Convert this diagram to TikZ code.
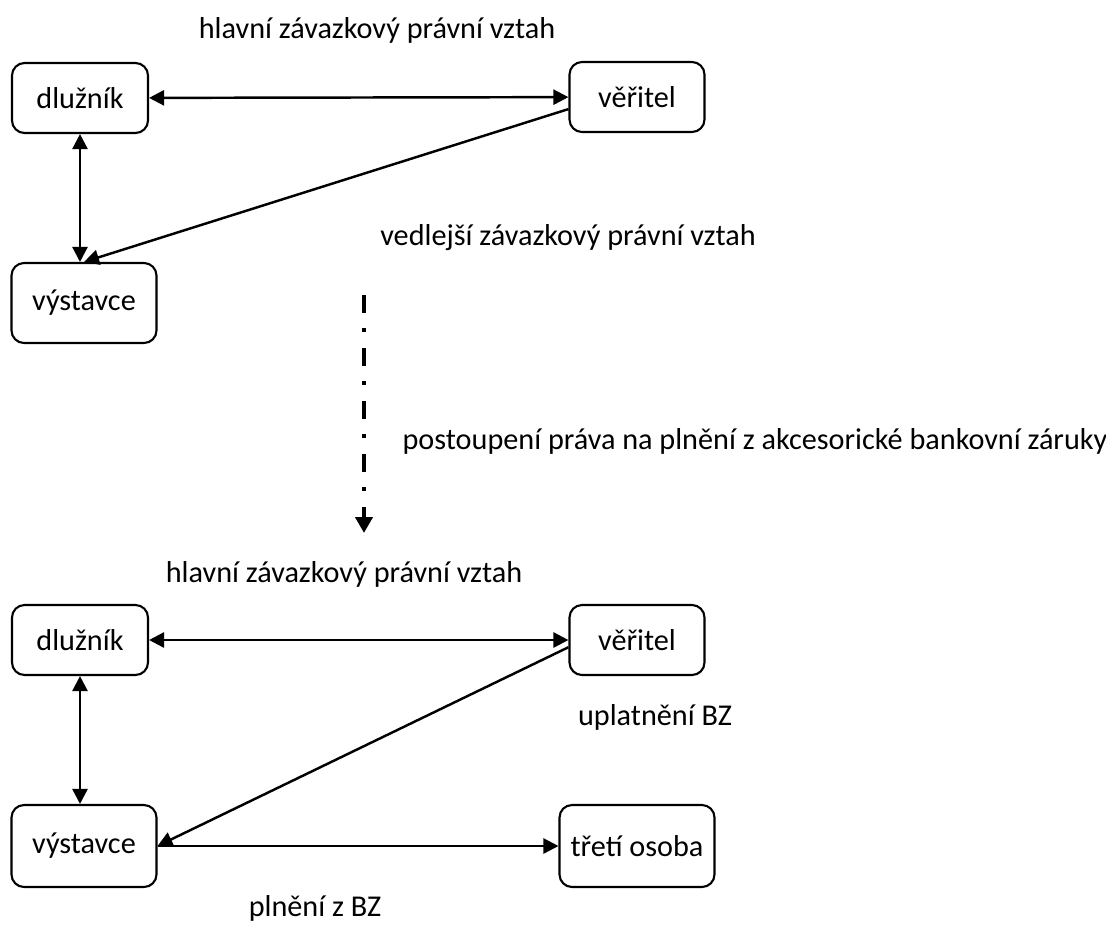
\documentclass[tikz,border=0pt]{standalone}
\usepackage{fontspec}
\setmainfont{Carlito}
\usetikzlibrary{arrows.meta}

\begin{document}
\begin{tikzpicture}
      [x=0.02cm, y=-0.02cm,
      font=\fontsize{17.2}{20}\selectfont,
      party/.style={rectangle, rounded corners=0.25cm, draw=black, fill=white,
        line width=1.2pt, minimum height=1.4cm},
      arr/.style={-{Triangle[length=0.3cm,width=0.3cm]}, line width=1.4pt},
      biarr/.style={{Triangle[length=0.3cm,width=0.3cm]}-{Triangle[length=0.3cm,width=0.3cm]}, line width=1.4pt},
      assign/.style={-{Triangle[length=0.32cm,width=0.34cm]}, line width=2.6pt,
        dash pattern=on 0.36cm off 0.3cm on 0.08cm off 0.32cm}]
      \useasboundingbox (0,0) rectangle (1106,924);
      % before the assignment
      \node (dl1) at (80, 98) [party, minimum width=2.72cm] {dlužník};
      \node (ve1) at (637, 97) [party, minimum width=2.7cm] {věřitel};
      \node (vy1) at (84, 303) [party, minimum width=2.9cm, minimum height=1.6cm] {výstavce};
      \draw[biarr] (dl1) -- (ve1);
      \draw[biarr] (dl1.south) -- (dl1.south |- vy1.north);
      \draw[arr] (ve1.190) -- (vy1.north);
      \node (main1) at (377, 30) {hlavní závazkový právní vztah};
      \node (side1) at (568, 238) {vedlejší závazkový právní vztah};
      % assignment
      \coordinate (assignTop) at (364, 295);
      \coordinate (assignEnd) at (364, 533);
      \draw[assign] (assignTop) -- (assignEnd);
      \node (assignLbl) at (755, 441) {postoupení práva na plnění z akcesorické bankovní záruky};
      % after the assignment
      \node (dl2) at (80, 640) [party, minimum width=2.72cm] {dlužník};
      \node (ve2) at (637, 640) [party, minimum width=2.7cm] {věřitel};
      \node (vy2) at (84, 846) [party, minimum width=2.9cm, minimum height=1.64cm] {výstavce};
      \node (tr2) at (637, 846) [party, minimum width=3.1cm, minimum height=1.64cm] {třetí osoba};
      \draw[biarr] (dl2) -- (ve2);
      \draw[biarr] (dl2.south) -- (dl2.south |- vy2.north);
      \draw[arr] (ve2.186) -- (vy2.east);
      \draw[arr] (vy2) -- (tr2);
      \node (main2) at (344, 574) {hlavní závazkový právní vztah};
      \node (claim2) at (655, 717) {uplatnění BZ};
      \node (pay2) at (315, 908) {plnění z BZ};
    \end{tikzpicture}
\end{document}
